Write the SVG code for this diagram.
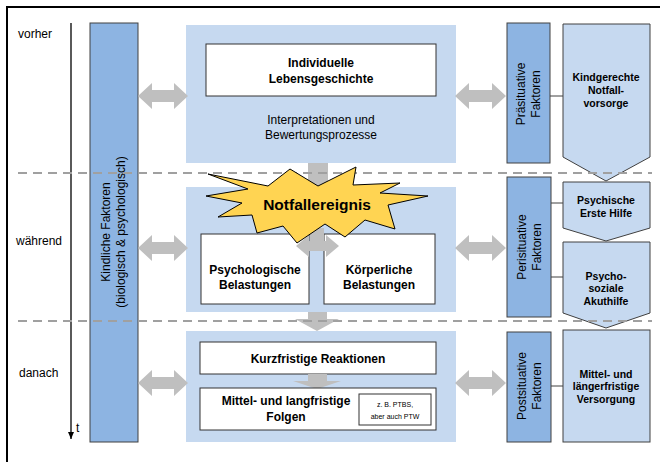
<svg xmlns="http://www.w3.org/2000/svg" width="660" height="462" viewBox="0 0 660 462">
<style>
text{font-family:"Liberation Sans",Arial,sans-serif;fill:#000}
.panel{fill:#C6D9F0;stroke:none}
.white{fill:#FFFFFF;stroke:#333;stroke-width:1}
.bar{fill:#8DB4E2;stroke:#404040;stroke-width:1}
.pent{fill:#C6D9F0;stroke:#404040;stroke-width:1}
.garrow{fill:#BFBFBF;stroke:none}
.conn{stroke:#404040;stroke-width:1;fill:none}
.dash{stroke:#A0A0A0;stroke-width:2;stroke-dasharray:9,6;fill:none}
.b12{font-size:12px;font-weight:bold;text-anchor:middle}
.n12{font-size:12px;text-anchor:middle}
.b10{font-size:10.5px;font-weight:bold;text-anchor:middle}
.rot{font-size:12px;text-anchor:middle;dominant-baseline:central}
</style>
<defs>
<marker id="tArrow" markerWidth="8" markerHeight="8" refX="7" refY="4" orient="auto" markerUnits="userSpaceOnUse">
<path d="M0,1 L7,4 L0,7 Z" fill="#000"/>
</marker>
</defs>
<rect width="660" height="462" fill="#FFFFFF"/>
<!-- frame (only top and left visible) -->
<path d="M7,470 L7,7 L670,7" fill="none" stroke="#000" stroke-width="2"/>

<!-- time axis -->
<g id="timeaxis">
<line x1="71" y1="23" x2="71" y2="439" stroke="#000" stroke-width="1.3" marker-end="url(#tArrow)"/>
<text x="76" y="432" style="font-size:12px">t</text>
<text x="18" y="38" style="font-size:12px">vorher</text>
<text x="16" y="245" style="font-size:12px">während</text>
<text x="19" y="377" style="font-size:12px">danach</text>
</g>

<!-- panels -->
<g id="panel-vorher"><rect class="panel" x="186" y="25" width="270" height="138"/></g>
<g id="panel-waehrend"><rect class="panel" x="186" y="187" width="270" height="125"/></g>
<g id="panel-danach"><rect class="panel" x="186" y="331" width="270" height="111"/></g>

<g id="kindliche-faktoren">
<rect class="bar" x="90" y="23" width="48" height="419"/>
<text class="rot" transform="translate(106,232) rotate(-90)">Kindliche Faktoren</text>
<text class="rot" transform="translate(121,232) rotate(-90)">(biologisch &amp; psychologisch)</text>
</g>

<!-- connectors -->
<g id="connectors">
<path class="garrow" d="M138,96 L152,83 L152,90 L174,90 L174,83 L188,96 L174,109 L174,102 L152,102 L152,109 Z"/>
<path class="garrow" d="M138,248 L152,235 L152,242 L174,242 L174,235 L188,248 L174,261 L174,254 L152,254 L152,261 Z"/>
<path class="garrow" d="M138,383 L152,370 L152,377 L174,377 L174,370 L188,383 L174,396 L174,389 L152,389 L152,396 Z"/>
<path class="garrow" d="M455,96 L469,83 L469,90 L492,90 L492,83 L506,96 L492,109 L492,102 L469,102 L469,109 Z"/>
<path class="garrow" d="M455,248 L469,235 L469,242 L492,242 L492,235 L506,248 L492,261 L492,254 L469,254 L469,261 Z"/>
<path class="garrow" d="M455,383 L469,370 L469,377 L492,377 L492,370 L506,383 L492,396 L492,389 L469,389 L469,396 Z"/>
<rect class="garrow" x="308" y="163" width="20" height="32"/>
<rect class="garrow" x="308" y="312" width="19" height="8"/>
<path class="garrow" d="M295,319 L339,319 L317,331 Z"/>
<line class="conn" x1="550" y1="96" x2="563" y2="96"/>
<line class="conn" x1="551" y1="203" x2="563" y2="203"/>
<line class="conn" x1="551" y1="277" x2="563" y2="277"/>
<line class="conn" x1="551" y1="386" x2="563" y2="386"/>
</g>

<!-- vorher content -->
<g id="individuelle-lebensgeschichte">
<rect class="white" x="206" y="44" width="230" height="52"/>
<text class="b12" x="321" y="67">Individuelle</text>
<text class="b12" x="321" y="83">Lebensgeschichte</text>
</g>
<g id="interpretationen">
<text class="n12" x="321" y="124" fill="#222">Interpretationen und</text>
<text class="n12" x="321" y="139" fill="#222">Bewertungsprozesse</text>
</g>

<!-- waehrend content -->
<g id="psychologische-belastungen">
<rect class="white" x="201" y="234" width="108" height="70"/>
<text class="b12" x="255" y="274">Psychologische</text>
<text class="b12" x="255" y="289">Belastungen</text>
</g>
<g id="koerperliche-belastungen">
<rect class="white" x="324" y="234" width="111" height="70"/>
<text class="b12" x="379" y="274">Körperliche</text>
<text class="b12" x="379" y="289">Belastungen</text>
</g>
<g id="mid-arrow">
<rect class="garrow" x="310" y="228" width="14" height="18"/>
<path class="garrow" d="M296,246 L309,235 L309,241 L326,241 L326,235 L339,246 L326,257 L326,251 L309,251 L309,257 Z"/>
</g>

<!-- danach content -->
<g id="kurzfristige-reaktionen">
<rect class="white" x="200" y="342" width="236" height="32"/>
<text class="b12" x="318" y="363">Kurzfristige Reaktionen</text>
</g>
<g id="arrow-kurz-mittel">
<rect class="garrow" x="308" y="374" width="19" height="7"/>
<path class="garrow" d="M293,381 L341,381 L317,389 Z"/>
</g>
<g id="mittel-langfristige-folgen">
<rect class="white" x="200" y="388" width="236" height="42"/>
<text class="b12" x="286" y="405">Mittel- und langfristige</text>
<text class="b12" x="286" y="421">Folgen</text>
</g>
<g id="ptbs">
<rect class="white" x="359" y="394" width="72" height="31"/>
<text x="395" y="407" style="font-size:7px;text-anchor:middle">z. B. PTBS,</text>
<text x="395" y="419" style="font-size:7px;text-anchor:middle">aber auch PTW</text>
</g>

<!-- right column -->
<g id="praesituative-faktoren">
<rect class="bar" x="507" y="23" width="43" height="140"/>
<text class="rot" transform="translate(521,94) rotate(-90)">Präsituative</text>
<text class="rot" transform="translate(536,94) rotate(-90)">Faktoren</text>
</g>
<g id="kindgerechte-notfallvorsorge">
<path class="pent" d="M563,24 L650,24 L650,157 L606,181 L563,157 Z"/>
<text class="b10" x="606" y="81">Kindgerechte</text>
<text class="b10" x="606" y="94">Notfall-</text>
<text class="b10" x="606" y="107">vorsorge</text>
</g>
<g id="perisituative-faktoren">
<rect class="bar" x="507" y="177" width="44" height="140"/>
<text class="rot" transform="translate(522,247) rotate(-90)">Perisituative</text>
<text class="rot" transform="translate(537,247) rotate(-90)">Faktoren</text>
</g>
<g id="psychische-erste-hilfe">
<path class="pent" d="M563,182 L650,182 L650,228 L606,241 L563,228 Z"/>
<text class="b10" x="606" y="204">Psychische</text>
<text class="b10" x="606" y="217">Erste Hilfe</text>
</g>
<g id="psychosoziale-akuthilfe">
<path class="pent" d="M563,242 L650,242 L650,313 L606,328 L563,313 Z"/>
<text class="b10" x="606" y="280">Psycho-</text>
<text class="b10" x="606" y="292">soziale</text>
<text class="b10" x="606" y="305">Akuthilfe</text>
</g>
<g id="postsituative-faktoren">
<rect class="bar" x="507" y="332" width="44" height="110"/>
<text class="rot" transform="translate(522,386) rotate(-90)">Postsituative</text>
<text class="rot" transform="translate(537,386) rotate(-90)">Faktoren</text>
</g>
<g id="laengerfristige-versorgung">
<rect class="pent" x="563" y="330" width="87" height="112"/>
<text class="b10" x="606" y="378">Mittel- und</text>
<text class="b10" x="606" y="390">längerfristige</text>
<text class="b10" x="606" y="403">Versorgung</text>
</g>

<!-- phase separators -->
<g id="separators">
<line class="dash" x1="18" y1="173" x2="652" y2="173"/>
<line class="dash" x1="18" y1="321" x2="652" y2="321"/>
</g>

<!-- star -->
<g id="notfallereignis">
<path d="M208,174 L268,186 L290,169 L318,186 L356,167 L353,185 L400,183 L380,193 L428,196 L388,205 L395,229 L365,220 L345,237 L325,224 L297,243 L283,226 L257,233 L252,215 L218,217 L242,203 L206,196 L248,189 Z" fill="#FFD452" stroke="#000" stroke-width="1"/>
<text x="317" y="210" style="font-size:15.5px;font-weight:bold;text-anchor:middle">Notfallereignis</text>
</g>
</svg>
